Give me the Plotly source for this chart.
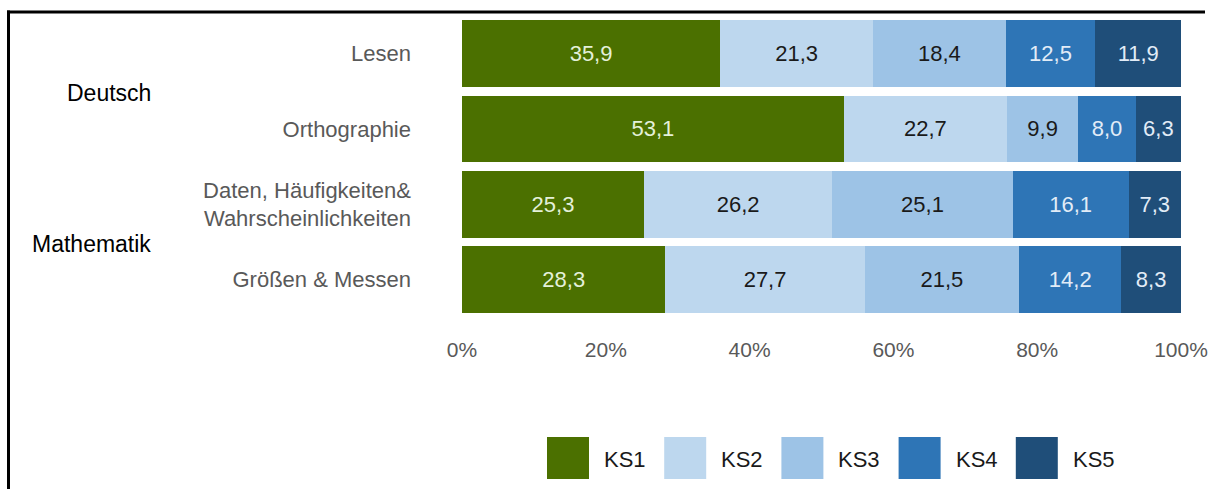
import plotly.graph_objects as go

categories = ["Lesen", "Orthographie", "Daten, Häufigkeiten&<br>Wahrscheinlichkeiten", "Größen & Messen"]
series_names = ["KS1", "KS2", "KS3", "KS4", "KS5"]
ks1 = [35.9, 53.1, 25.3, 28.3]
ks2 = [21.3, 22.7, 26.2, 27.7]
ks3 = [18.4, 9.9, 25.1, 21.5]
ks4 = [12.5, 8.0, 16.1, 14.2]
ks5 = [11.9, 6.3, 7.3, 8.3]
series_values = [ks1, ks2, ks3, ks4, ks5]
colors = ["#4b7000", "#bdd7ee", "#9dc3e6", "#2e75b6", "#1f4e79"]
text_colors = ["#e4f0da", "#1a1a1a", "#1a1a1a", "#e2ecf7", "#e2ecf7"]
groups = ["Deutsch", "Mathematik"]
tick_vals = [0, 20, 40, 60, 80, 100]
tick_text = ["0%", "20%", "40%", "60%", "80%", "100%"]

FONT = "Liberation Sans, Arial, sans-serif"
W, H = 1213, 489
L, R, T = 462, W - 1181, 15.5
B = H - 317.5
pw, ph = W - L - R, H - T - B

def px(x):  # pixel x -> paper
    return (x - L) / pw

def py(y):  # pixel y -> paper
    return 1 - (y - T) / ph

fig = go.Figure()
for name, vals, col, tcol in zip(series_names, series_values, colors, text_colors):
    fig.add_trace(go.Bar(
        y=categories, x=vals, name=name, orientation="h",
        marker=dict(color=col, line=dict(width=0)),
        texttemplate="%{x:.1f}", textposition="inside",
        insidetextanchor="middle", constraintext="none",
        textfont=dict(family=FONT, size=22, color=tcol),
        showlegend=False, hoverinfo="skip",
    ))

shapes = []
annotations = []
# custom legend
for i, (name, col) in enumerate(zip(series_names, colors)):
    x0 = 547 + 117.2 * i
    shapes.append(dict(type="rect", xref="paper", yref="paper",
                       x0=px(x0), x1=px(x0 + 42), y0=py(480), y1=py(438),
                       fillcolor=col, line=dict(width=0)))
    annotations.append(dict(xref="paper", yref="paper", x=px(x0 + 55), y=py(460),
                            text=name, showarrow=False, xanchor="left", yanchor="middle",
                            font=dict(family=FONT, size=22, color="#1a1a1a")))
# group labels
for g, yc in zip(groups, [93, 244]):
    annotations.append(dict(xref="paper", yref="paper", x=px(153), y=py(yc),
                            text=g, showarrow=False, xanchor="right", yanchor="middle",
                            font=dict(family=FONT, size=23, color="#000000")))
# frame lines (top and left)
shapes.append(dict(type="line", xref="paper", yref="paper",
                   x0=px(7), x1=px(1205), y0=py(11.5), y1=py(11.5),
                   line=dict(color="#000000", width=3)))
shapes.append(dict(type="line", xref="paper", yref="paper",
                   x0=px(8.5), x1=px(8.5), y0=py(10), y1=py(495),
                   line=dict(color="#000000", width=3)))

fig.update_layout(
    width=W, height=H,
    margin=dict(l=L, r=R, t=T, b=B, pad=0, autoexpand=False),
    barmode="stack", bargap=0.113,
    separators=",.",
    paper_bgcolor="white", plot_bgcolor="white",
    font=dict(family=FONT, size=22, color="#595959"),
    shapes=shapes, annotations=annotations,
)
fig.update_xaxes(range=[0, 100], tickvals=tick_vals, ticktext=tick_text,
                 showgrid=False, zeroline=False, showline=False, automargin=False,
                 ticks="", ticklabelstandoff=18,
                 tickfont=dict(family=FONT, size=21, color="#595959"))
fig.update_yaxes(autorange="reversed", showgrid=False, zeroline=False, showline=False,
                 automargin=False, ticks="", ticklabelstandoff=50,
                 tickfont=dict(family=FONT, size=22, color="#595959"))

fig.write_html("out.html", config={"displayModeBar": False},
               post_script="document.body.style.margin='0';document.body.style.overflow='hidden';")
